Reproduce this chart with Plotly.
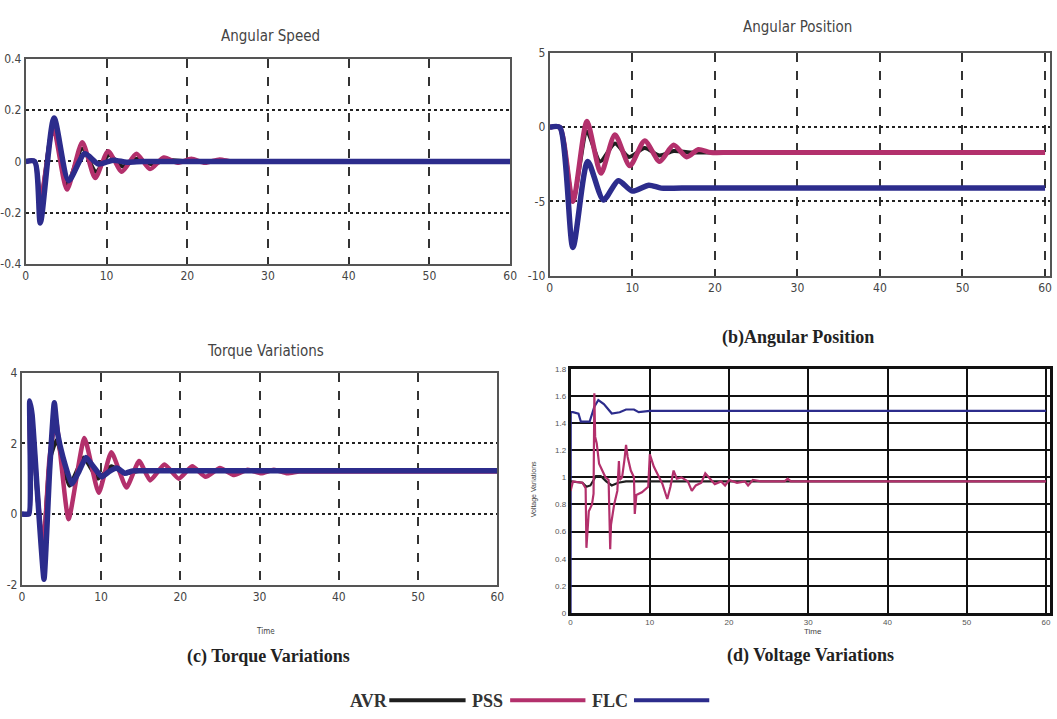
import plotly.graph_objects as go

W, H = 1057, 719

# ---------------- data ----------------
# (a) Angular Speed
t_speed_avr = [0, 1.1, 1.8, 3.4, 5.1, 7.0, 8.7, 10.3, 12.0, 13.8, 15.5, 17.5, 20, 23, 60]
speed_avr = [0, 0, -0.16, 0.14, -0.09, 0.05, -0.04, 0.025, -0.02, 0.01, -0.01, 0.005, 0, 0, 0]
t_speed_pss = [0, 1.1, 1.8, 3.4, 5.1, 7.0, 8.6, 10.2, 11.9, 13.7, 15.4, 17.1, 18.8, 20.5, 22.2, 24, 25.5, 28, 60]
speed_pss = [0, 0, -0.155, 0.13, -0.11, 0.075, -0.065, 0.04, -0.04, 0.03, -0.03, 0.015, -0.005, 0.01, -0.005, 0.008, 0, 0, 0]
t_speed_flc = [0, 1.1, 1.8, 3.5, 5.3, 7.3, 9.0, 10.8, 12.5, 14.5, 17, 60]
speed_flc = [0, 0, -0.24, 0.17, -0.075, 0.03, -0.01, 0.005, -0.003, 0, 0, 0]

# (b) Angular Position
t_pos_avr = [0, 1.2, 2.8, 4.5, 6.1, 7.9, 9.6, 11.5, 13.3, 15, 17, 20, 60]
pos_avr = [0, 0, -5.0, -0.3, -2.3, -1.1, -2.0, -1.4, -1.9, -1.6, -1.7, -1.7, -1.7]
t_pos_pss = [0, 1.2, 2.8, 4.5, 6.2, 7.9, 9.7, 11.5, 13.3, 15, 16.6, 18, 19.5, 22, 60]
pos_pss = [0, 0, -5.0, 0.4, -3.1, -0.5, -2.6, -0.9, -2.3, -1.2, -2.0, -1.5, -1.7, -1.7, -1.7]
t_pos_flc = [0, 1.2, 2.8, 4.6, 6.5, 8.3, 10.0, 12.0, 13.5, 16, 60]
pos_flc = [0, 0, -8.1, -2.3, -4.9, -3.6, -4.3, -3.9, -4.1, -4.1, -4.1]

# (c) Torque Variations
t_tq_avr = [0, 0.9, 1.0, 1.4, 2.0, 2.7, 3.5, 4.4, 6.0, 7.8, 9.6, 11.3, 13, 15, 18, 60]
tq_avr = [0, 0, 2.9, 2.3, 0.4, -1.0, 1.5, 2.1, 0.8, 1.6, 1.0, 1.35, 1.15, 1.22, 1.22, 1.22]
t_tq_pss = [0, 0.9, 1.0, 1.4, 2.0, 2.7, 3.5, 4.3, 5.9, 7.9, 9.7, 11.3, 13.2, 14.8, 16.2, 18.0,
            19.8, 21.5, 23.2, 25.0, 26.8, 28.5, 30.2, 31.8, 33.5, 35, 38, 60]
tq_pss = [0, 0, 2.9, 2.4, 0.5, -0.95, 1.6, 2.65, -0.15, 2.15, 0.6, 1.75, 0.75, 1.5, 0.95, 1.4,
          1.0, 1.35, 1.05, 1.3, 1.1, 1.25, 1.15, 1.25, 1.15, 1.2, 1.2, 1.2]
t_tq_flc = [0, 0.9, 1.0, 1.3, 2.0, 2.8, 3.5, 4.1, 4.5, 5.2, 6.3, 7.2, 8.1, 9.0, 10.1, 11.0, 12.0, 13.0, 14.0, 16, 60]
tq_flc = [0, 0, 3.2, 2.8, 0.5, -1.85, 1.2, 3.15, 2.3, 1.6, 0.85, 1.2, 1.6, 1.35, 1.05, 1.2, 1.3, 1.15, 1.22, 1.22, 1.22]

# (d) Voltage Variations
t_v_avr = [0, 1.5, 2.0, 2.5, 3.2, 3.8, 4.5, 5.2, 6.0, 7.0, 8.0, 10.0, 60]
v_avr = [0.97, 0.96, 0.93, 0.94, 1.01, 1.01, 0.97, 0.94, 0.96, 0.97, 0.97, 0.97, 0.97]
t_v_pss = [0, 0.3, 1.5, 1.9, 2.0, 2.3, 2.7, 2.9, 3.0, 3.1, 3.3, 3.6, 4.0, 4.4, 4.8, 5.0, 5.1, 5.5,
           5.9, 6.1, 6.2, 6.5, 6.8, 7.0, 7.2, 7.6, 8.0, 8.1, 8.3, 9.0, 9.8, 10.0, 10.5, 11.0,
           11.6, 12.2, 12.6, 13.0, 13.4, 14.0, 14.8, 15.3, 15.8, 16.5, 17.0, 17.6, 18.2, 19.0,
           19.5, 20.0, 21.0, 22.0, 22.4, 23.0, 24.0, 25.0, 27.0, 27.4, 27.8, 60]
v_pss = [0.9, 0.97, 0.96, 0.92, 0.48, 0.75, 0.8, 0.88, 1.62, 1.3, 1.25, 1.1, 1.05, 1.0, 0.98,
         0.47, 0.65, 0.8, 0.9, 1.12, 0.98, 1.0, 1.13, 1.24, 1.15, 1.05, 1.0, 0.73, 0.87, 0.89,
         0.93, 1.17, 1.08, 1.02, 0.95, 0.84, 0.93, 1.05, 0.99, 1.0, 0.97, 0.9, 0.94, 0.96, 1.03,
         0.99, 0.95, 0.97, 0.94, 0.98, 0.96, 0.97, 0.94, 0.98, 0.97, 0.97, 0.97, 0.99, 0.97, 0.97]
t_v_flc = [0, 0.02, 0.3, 1.0, 1.3, 2.4, 3.0, 3.5, 4.2, 5.2, 6.2, 7.0, 8.0, 8.6, 10.0, 60]
v_flc = [0, 1.48, 1.48, 1.47, 1.41, 1.41, 1.52, 1.57, 1.54, 1.47, 1.48, 1.50, 1.50, 1.48, 1.49, 1.49]

x_ticks = [0, 10, 20, 30, 40, 50, 60]
legend_names = ["AVR", "PSS", "FLC"]

# ---------------- style ----------------
C_AVR = "#1e1e1e"
C_PSS = "#b3306c"
C_FLC = "#2c2c8c"
COND = "Liberation Sans Narrow, DejaVu Sans Condensed, Arial Narrow, Liberation Sans, sans-serif"
SERIF = "Liberation Serif, Times New Roman, serif"
SANS = "Liberation Sans, Arial, sans-serif"


def px(x):
    return x / W


def py(y):
    return 1 - y / H


fig = go.Figure()


def add(t, y, color, width, xa, ya, shape="linear", smooth=None):
    line = dict(color=color, width=width, shape=shape)
    if smooth is not None:
        line["smoothing"] = smooth
    fig.add_trace(go.Scatter(x=t, y=y, mode="lines", line=line, xaxis=xa, yaxis=ya,
                             showlegend=False, hoverinfo="skip"))


# (a)
add(t_speed_avr, speed_avr, C_AVR, 4, "x", "y", "spline", 0.7)
add(t_speed_pss, speed_pss, C_PSS, 4.5, "x", "y", "spline", 0.7)
add(t_speed_flc, speed_flc, C_FLC, 5.5, "x", "y", "spline", 0.7)
# (b)
add(t_pos_avr, pos_avr, C_AVR, 4, "x2", "y2", "spline", 0.7)
add(t_pos_pss, pos_pss, C_PSS, 5, "x2", "y2", "spline", 0.7)
add(t_pos_flc, pos_flc, C_FLC, 5.5, "x2", "y2", "spline", 0.7)
# (c)
add(t_tq_avr, tq_avr, C_AVR, 4, "x3", "y3", "spline", 0.4)
add(t_tq_pss, tq_pss, C_PSS, 4.5, "x3", "y3", "spline", 0.5)
add(t_tq_flc, tq_flc, C_FLC, 5.5, "x3", "y3", "spline", 0.4)
# (d)
add(t_v_flc, v_flc, C_FLC, 2.2, "x4", "y4")
add(t_v_avr, v_avr, C_AVR, 2.2, "x4", "y4")
add(t_v_pss, v_pss, C_PSS, 2.2, "x4", "y4")

tick_font = dict(family=COND, size=12, color="#444")


def mat_x(domain, rng, anchor):
    return dict(domain=domain, range=rng, anchor=anchor, tickvals=x_ticks,
                ticktext=[str(v) for v in x_ticks],
                showgrid=True, gridcolor="#333", gridwidth=1.5, griddash="dash",
                showline=True, mirror=True, linecolor="#555", linewidth=2,
                zeroline=False, ticks="", tickfont=tick_font, fixedrange=True)


def mat_y(domain, rng, vals, texts, anchor):
    return dict(domain=domain, range=rng, anchor=anchor, tickvals=vals, ticktext=texts,
                showgrid=True, gridcolor="#222", gridwidth=2, griddash="dot",
                showline=True, mirror=True, linecolor="#555", linewidth=2,
                zeroline=False, ticks="", tickfont=tick_font, fixedrange=True)


small_font = dict(family=SANS, size=8, color="#555")

layout = dict(
    width=W, height=H, margin=dict(l=0, r=0, t=0, b=0),
    paper_bgcolor="white", plot_bgcolor="white", showlegend=False,
    xaxis=mat_x([px(23), px(512)], [0, 60], "y"),
    yaxis=mat_y([py(262), py(53)], [-0.4, 0.4], [-0.4, -0.2, 0, 0.2, 0.4],
                ["-0.4", "-0.2", "0", "0.2", "0.4"], "x"),
    xaxis2=mat_x([px(552), 1.0], [0, 60.6], "y2"),
    yaxis2=mat_y([py(274), py(47)], [-10, 5], [-10, -5, 0, 5], ["-10", "-5", "0", "5"], "x2"),
    xaxis3=mat_x([px(19), px(499)], [0, 60], "y3"),
    yaxis3=mat_y([py(589), py(373)], [-2, 4], [-2, 0, 2, 4], ["-2", "0", "2", "4"], "x3"),
    xaxis4=dict(domain=[px(573), 1.0], range=[0, 60.5], anchor="y4", tickvals=x_ticks,
                ticktext=[str(v) for v in x_ticks], showgrid=True, gridcolor="#111", gridwidth=2,
                showline=True, mirror=True, linecolor="#111", linewidth=2.5, zeroline=False,
                tickfont=small_font, fixedrange=True),
    yaxis4=dict(domain=[py(618), py(369)], range=[0, 1.8], anchor="x4",
                tickvals=[0, 0.2, 0.4, 0.6, 0.8, 1.0, 1.2, 1.4, 1.6, 1.8],
                ticktext=["0", "0.2", "0.4", "0.6", "0.8", "1", "1.2", "1.4", "1.6", "1.8"],
                showgrid=True, gridcolor="#111", gridwidth=2,
                showline=True, mirror=True, linecolor="#111", linewidth=2.5, zeroline=False,
                tickfont=small_font, fixedrange=True),
)
fig.update_layout(**layout)

ann = []


def text(x, y, s, font, angle=0):
    ann.append(dict(x=px(x), y=py(y), xref="paper", yref="paper", text=s, showarrow=False,
                    font=font, textangle=angle, xanchor="center", yanchor="middle"))


title_font = dict(family=COND, size=15, color="#444")
text(270, 30, "Angular Speed", title_font)
text(802, 20, "Angular Position", title_font)
text(265, 351, "Torque Variations", title_font)
text(265, 637, "Time", dict(family=COND, size=8, color="#444"))
text(818, 637, "Time", dict(family=SANS, size=8, color="#444"))
text(537, 492, "Voltage Variations", dict(family=SANS, size=7, color="#444"), -90)

cap_font = dict(family=SERIF, size=18, color="#222")
text(803, 337, "<b>(b)Angular Position</b>", cap_font)
text(268, 662, "<b>(c) Torque Variations</b>", cap_font)
text(815, 661, "<b>(d) Voltage Variations</b>", cap_font)

# legend (text then line sample)
leg_font = dict(family=SERIF, size=18, color="#333")
leg_items = [(legend_names[0], 370, 390, 467, C_AVR),
             (legend_names[1], 489, 512, 588, C_PSS),
             (legend_names[2], 613, 637, 713, C_FLC)]
shapes = []
for name, tx, x0, x1, col in leg_items:
    text(tx, 708, "<b>%s</b>" % name, leg_font)
    shapes.append(dict(type="line", xref="paper", yref="paper", x0=px(x0), x1=px(x1),
                       y0=py(707), y1=py(707), line=dict(color=col, width=4)))

fig.update_layout(annotations=ann, shapes=shapes)

fig.write_html("out.html", config={"displayModeBar": False},
               post_script="document.body.style.margin='0';document.body.style.overflow='hidden';")
